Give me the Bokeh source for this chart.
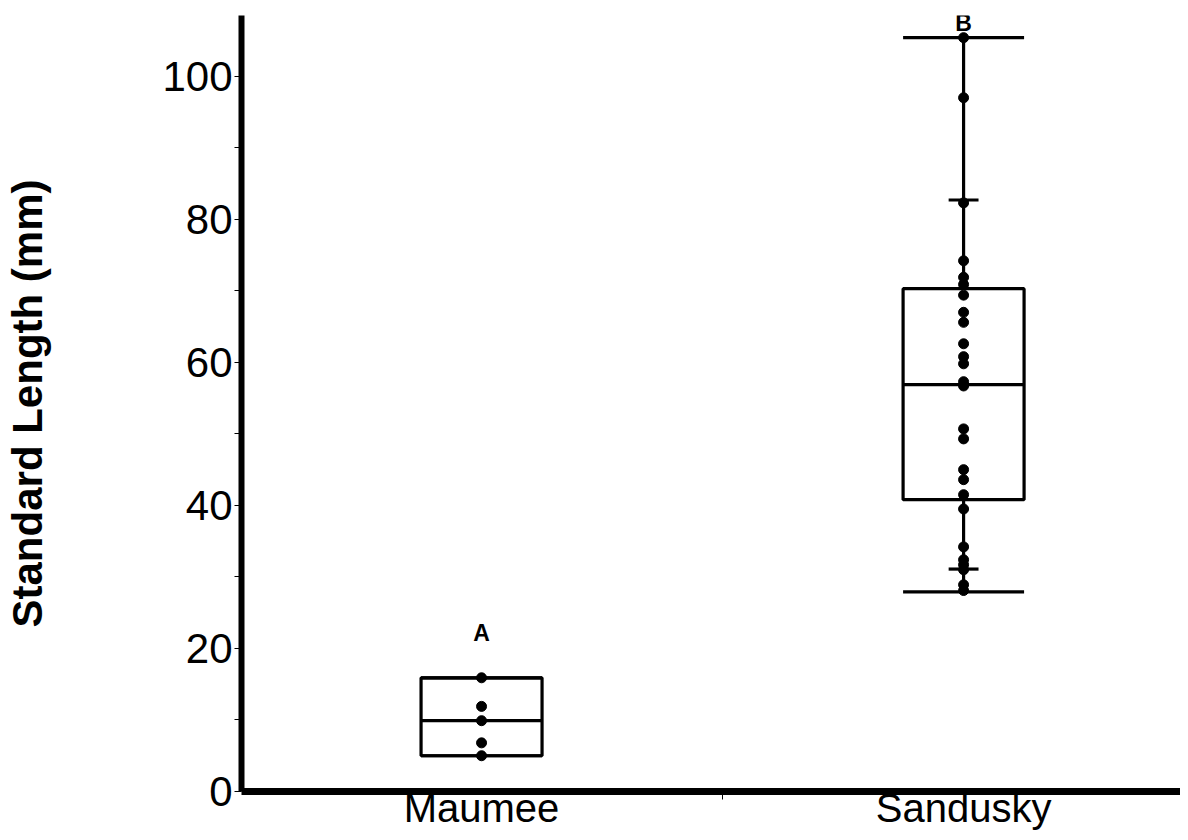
from bokeh.plotting import figure
from bokeh.models import FixedTicker, Range1d
from bokeh.core.properties import value
from bokeh.embed import file_html
from bokeh.resources import INLINE

# ---- data ----
categories = ["Maumee", "Sandusky"]
positions = [1, 2]
maumee_values = [15.9, 11.9, 9.9, 6.8, 5.0]
sandusky_values = [105.4, 97.0, 82.3, 74.2, 71.9, 70.9, 69.4, 67.0, 65.6, 62.6,
                   60.8, 59.8, 57.3, 56.7, 50.7, 49.3, 45.0, 43.6, 41.5, 39.5,
                   34.2, 32.4, 31.7, 31.0, 28.9, 28.1]
box_q1 = [5.0, 40.8]
box_median = [9.9, 56.9]
box_q3 = [15.9, 70.3]
whisker_low = [5.0, 27.9]
whisker_high = [15.9, 105.4]
pct10_pos = [2]
pct10 = [31.1]
pct90 = [82.7]
letters = ["A", "B"]
letter_y = [20.3, 105.6]
y_ticks = [0, 20, 40, 60, 80, 100]
y_minor = [10, 30, 50, 70, 90]
x_minor = [1.5]

FONT = "Liberation Sans"
BOX_HALF = 0.1255
BAR_HALF = 0.031

p = figure(width=1180, height=832, output_backend="svg", toolbar_location=None,
           x_range=Range1d(0.502, 2.450), y_range=Range1d(0, 108.5),
           min_border_left=241, min_border_right=0, min_border_top=15,
           min_border_bottom=40)
p.outline_line_color = None
p.xgrid.visible = False
p.ygrid.visible = False
p.background_fill_color = "white"

LW = 3.2
# boxes
p.quad(left=[x - BOX_HALF for x in positions], right=[x + BOX_HALF for x in positions],
       bottom=box_q1, top=box_q3, fill_color=None, line_color="black", line_width=LW)
# medians
p.segment(x0=[x - BOX_HALF for x in positions], x1=[x + BOX_HALF for x in positions],
          y0=box_median, y1=box_median, line_color="black", line_width=LW)
# whiskers
p.segment(x0=positions, x1=positions, y0=whisker_low, y1=box_q1, line_color="black", line_width=LW)
p.segment(x0=positions, x1=positions, y0=box_q3, y1=whisker_high, line_color="black", line_width=LW)
# whisker caps
p.segment(x0=[x - BOX_HALF for x in positions], x1=[x + BOX_HALF for x in positions],
          y0=whisker_low, y1=whisker_low, line_color="black", line_width=LW)
p.segment(x0=[x - BOX_HALF for x in positions], x1=[x + BOX_HALF for x in positions],
          y0=whisker_high, y1=whisker_high, line_color="black", line_width=LW)
# percentile bars
p.segment(x0=[x - BAR_HALF for x in pct10_pos], x1=[x + BAR_HALF for x in pct10_pos],
          y0=pct10, y1=pct10, line_color="black", line_width=LW)
p.segment(x0=[x - BAR_HALF for x in pct10_pos], x1=[x + BAR_HALF for x in pct10_pos],
          y0=pct90, y1=pct90, line_color="black", line_width=LW)

# points
px = [positions[0]] * len(maumee_values) + [positions[1]] * len(sandusky_values)
py = maumee_values + sandusky_values
p.scatter(x=px, y=py, size=10, fill_color="black", line_color="black")

# letters
p.text(x=positions, y=letter_y, text=letters, text_font=value(FONT),
       text_font_style="bold", text_font_size="23px", text_align="center",
       text_baseline="bottom", text_color="black")

# x axis
xa = p.xaxis[0]
xa.ticker = FixedTicker(ticks=positions, minor_ticks=x_minor)
xa.major_label_overrides = {positions[i]: categories[i] for i in range(len(categories))}
xa.major_tick_line_color = None
xa.major_tick_out = 0
xa.major_tick_in = 0
xa.minor_tick_out = 8
xa.minor_tick_in = 0
xa.minor_tick_line_width = 1
xa.minor_tick_line_color = "black"
xa.axis_line_width = 7
xa.axis_line_color = "black"
xa.major_label_text_font = FONT
xa.major_label_text_font_size = "40px"
xa.major_label_text_color = "black"
xa.major_label_standoff = -14

# y axis
ya = p.yaxis[0]
ya.ticker = FixedTicker(ticks=y_ticks, minor_ticks=y_minor)
ya.major_tick_out = 7
ya.major_tick_in = 0
ya.minor_tick_out = 7
ya.minor_tick_in = 0
ya.major_tick_line_width = 1
ya.minor_tick_line_width = 1
ya.axis_line_width = 6
ya.axis_line_color = "black"
ya.major_label_text_font = FONT
ya.major_label_text_font_size = "42px"
ya.major_label_text_color = "black"
ya.major_label_standoff = 2
ya.axis_label = "Standard Length (mm)"
ya.axis_label_text_font = FONT
ya.axis_label_text_font_style = "bold"
ya.axis_label_text_font_size = "42px"
ya.axis_label_text_color = "black"
ya.axis_label_standoff = 108

open("out.html", "w").write(file_html(p, INLINE))
